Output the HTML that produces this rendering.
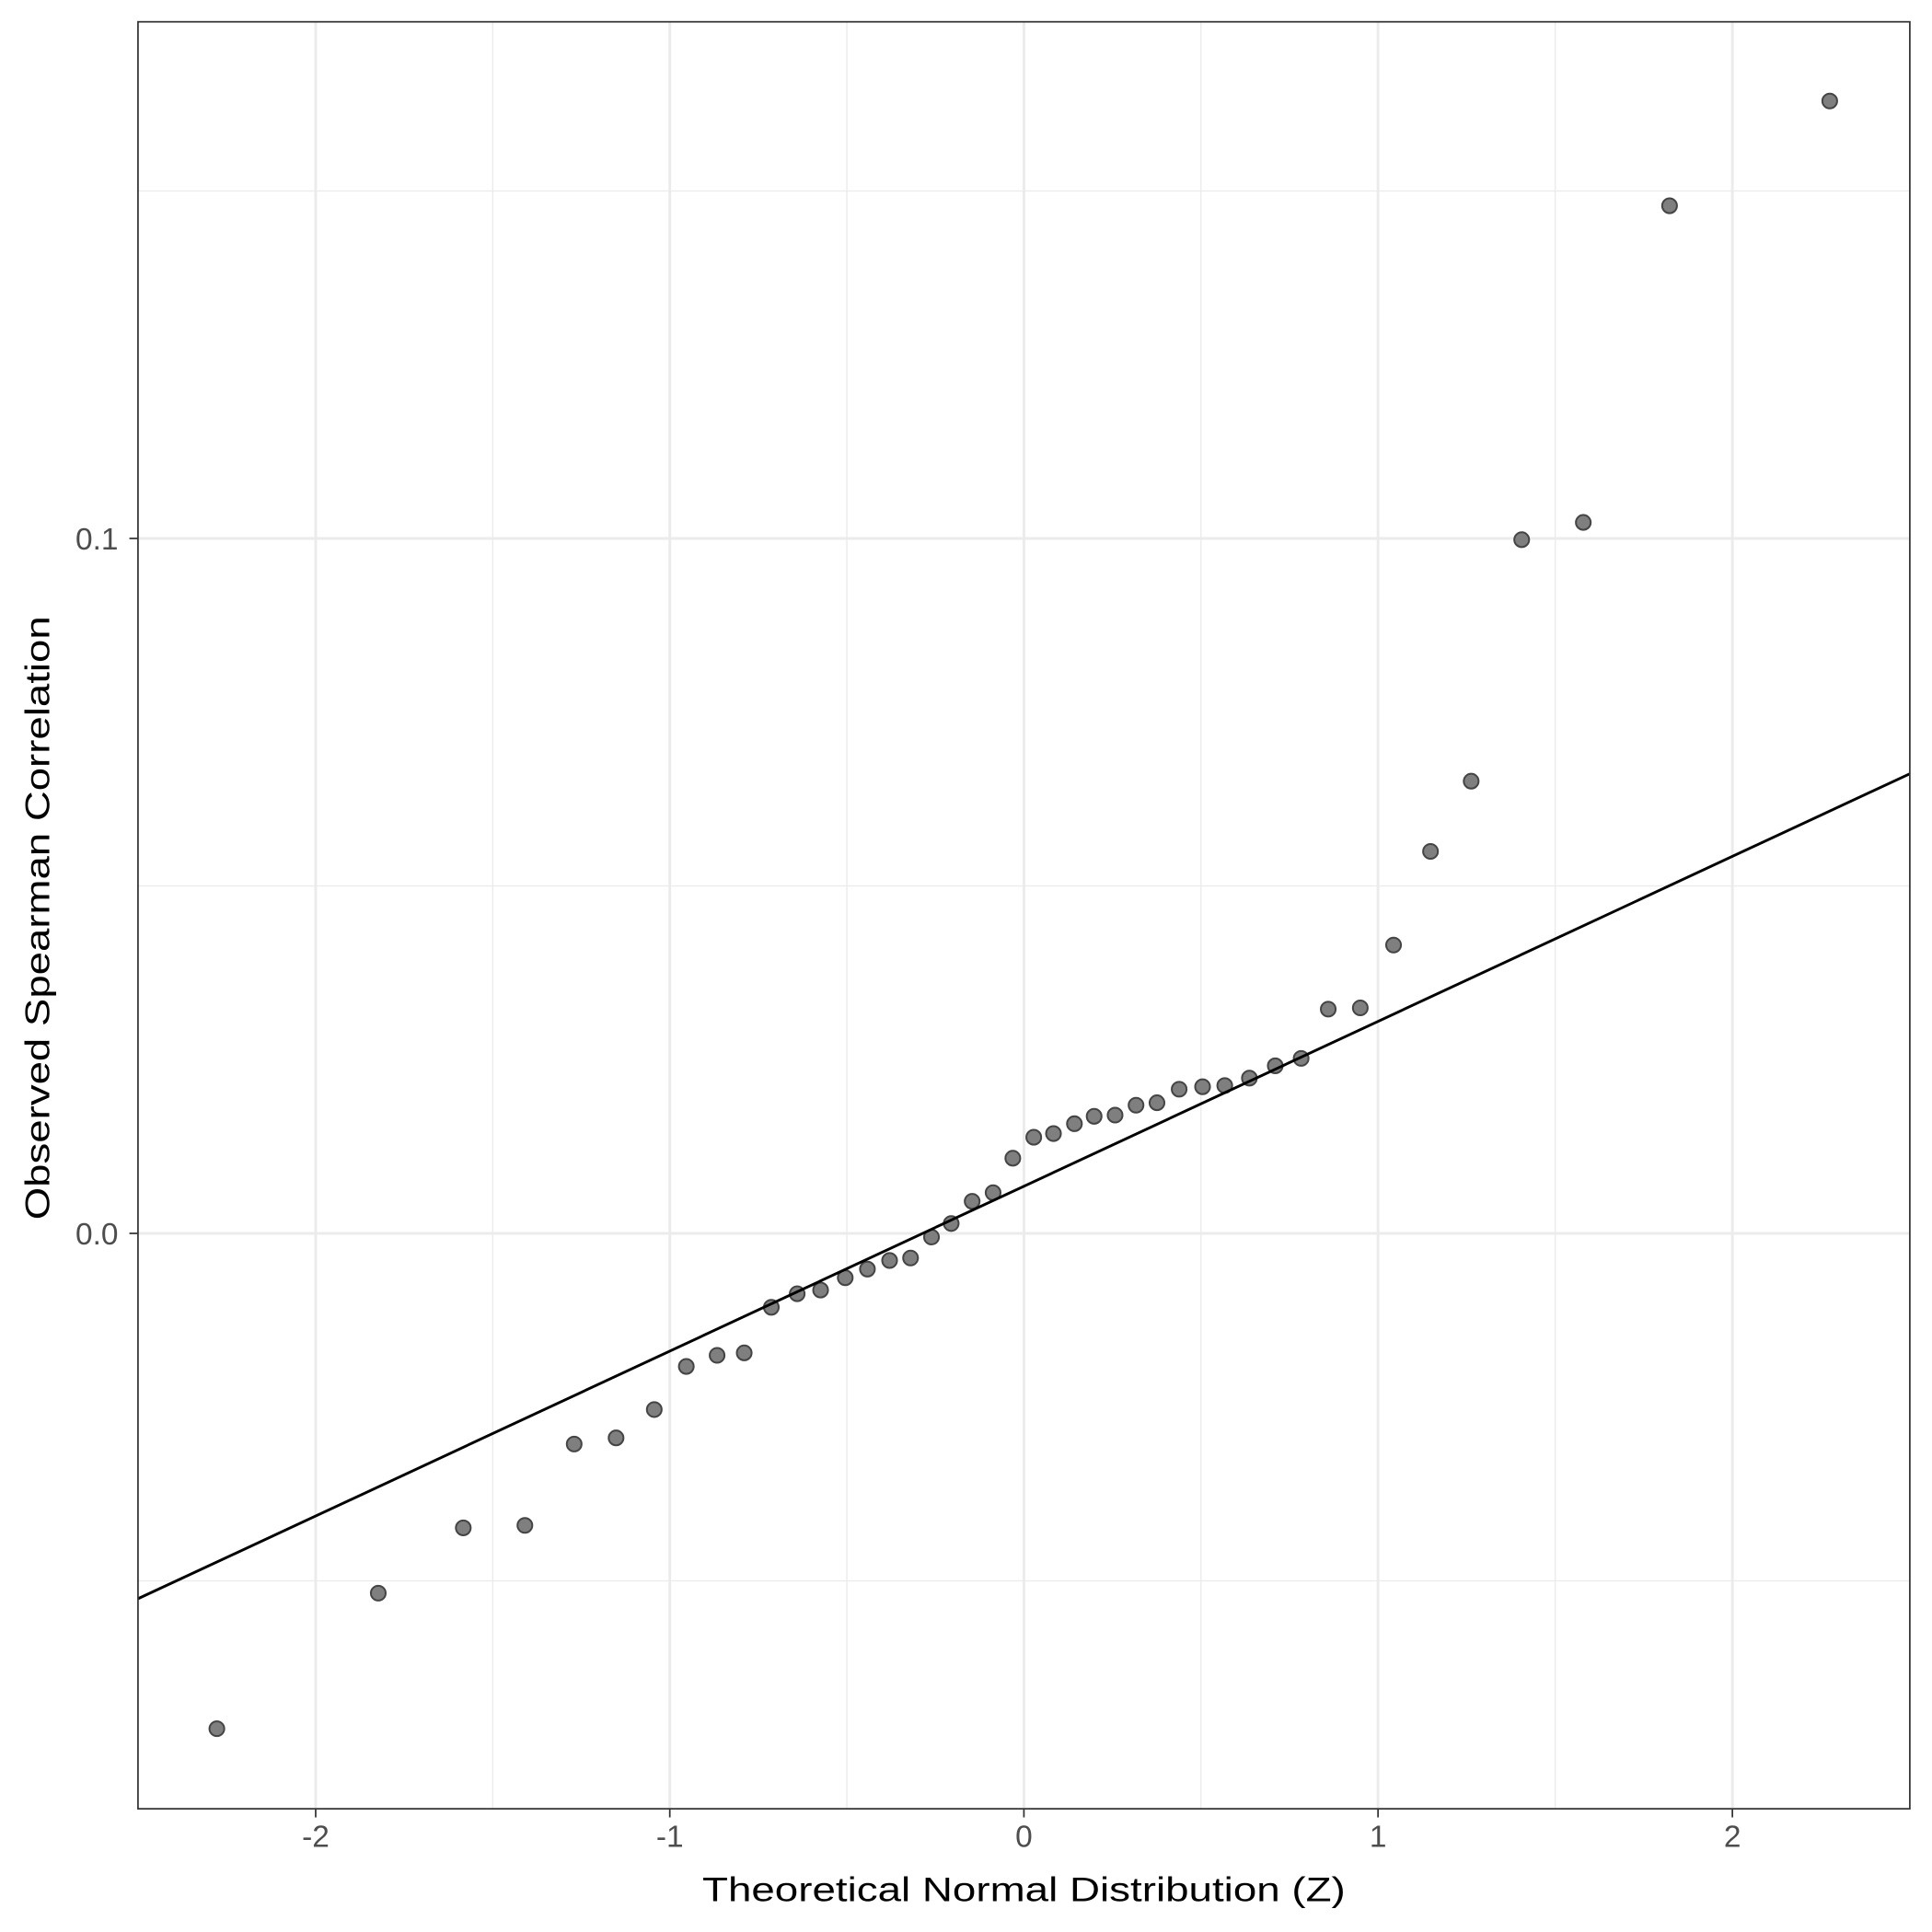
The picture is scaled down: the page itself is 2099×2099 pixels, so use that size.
<!DOCTYPE html>
<html><head><meta charset="utf-8"><style>html,body{margin:0;padding:0;background:#fff}svg{display:block}</style></head>
<body>
<svg width="2099" height="2099" viewBox="0 0 1568 1568" xmlns="http://www.w3.org/2000/svg" font-family="Liberation Sans, sans-serif">
<rect width="1568" height="1568" fill="#fff"/>
<g stroke="#ebebeb" stroke-width="1">
<line x1="399.9" y1="17.7" x2="399.9" y2="1468"/><line x1="687.3" y1="17.7" x2="687.3" y2="1468"/><line x1="974.7" y1="17.7" x2="974.7" y2="1468"/><line x1="1262.2" y1="17.7" x2="1262.2" y2="1468"/>
<line x1="112" y1="155" x2="1550" y2="155"/><line x1="112" y1="719" x2="1550" y2="719"/><line x1="112" y1="1283" x2="1550" y2="1283"/>
</g>
<g stroke="#ebebeb" stroke-width="2.2">
<line x1="256.2" y1="17.7" x2="256.2" y2="1468"/><line x1="543.6" y1="17.7" x2="543.6" y2="1468"/><line x1="831" y1="17.7" x2="831" y2="1468"/><line x1="1118.4" y1="17.7" x2="1118.4" y2="1468"/><line x1="1406" y1="17.7" x2="1406" y2="1468"/>
<line x1="112" y1="437" x2="1550" y2="437"/><line x1="112" y1="1001" x2="1550" y2="1001"/>
</g>
<g fill="#7f7f7f" stroke="#444" stroke-width="1.5">
<circle cx="176" cy="1403" r="6"/><circle cx="307" cy="1293" r="6"/><circle cx="376" cy="1240" r="6"/><circle cx="426" cy="1238" r="6"/><circle cx="466" cy="1172" r="6"/><circle cx="500" cy="1167" r="6"/><circle cx="531" cy="1144" r="6"/><circle cx="557" cy="1109" r="6"/><circle cx="582" cy="1100" r="6"/><circle cx="604" cy="1098" r="6"/><circle cx="626" cy="1061" r="6"/><circle cx="647" cy="1050" r="6"/><circle cx="666" cy="1047" r="6"/><circle cx="686" cy="1037" r="6"/><circle cx="704" cy="1030" r="6"/><circle cx="722" cy="1023" r="6"/><circle cx="739" cy="1021" r="6"/><circle cx="756" cy="1004" r="6"/><circle cx="772" cy="993" r="6"/><circle cx="789" cy="975" r="6"/><circle cx="806" cy="968" r="6"/><circle cx="822" cy="940" r="6"/><circle cx="839" cy="923" r="6"/><circle cx="855" cy="920" r="6"/><circle cx="872" cy="912" r="6"/><circle cx="888" cy="906" r="6"/><circle cx="905" cy="905" r="6"/><circle cx="922" cy="897" r="6"/><circle cx="939" cy="895" r="6"/><circle cx="957" cy="884" r="6"/><circle cx="976" cy="882" r="6"/><circle cx="994" cy="881" r="6"/><circle cx="1014" cy="875" r="6"/><circle cx="1035" cy="865" r="6"/><circle cx="1056" cy="859" r="6"/><circle cx="1078" cy="819" r="6"/><circle cx="1104" cy="818" r="6"/><circle cx="1131" cy="767" r="6"/><circle cx="1161" cy="691" r="6"/><circle cx="1194" cy="634" r="6"/><circle cx="1235" cy="438" r="6"/><circle cx="1285" cy="424" r="6"/><circle cx="1355" cy="167" r="6"/><circle cx="1485" cy="82" r="6"/>
</g>
<line x1="112" y1="1297.5" x2="1550" y2="628" stroke="#000" stroke-width="2.2"/>
<rect x="112" y="17.7" width="1438" height="1450.3" fill="none" stroke="#333" stroke-width="1.3"/>
<g stroke="#333" stroke-width="1.3">
<line x1="256.2" y1="1468" x2="256.2" y2="1475"/><line x1="543.6" y1="1468" x2="543.6" y2="1475"/><line x1="831" y1="1468" x2="831" y2="1475"/><line x1="1118.4" y1="1468" x2="1118.4" y2="1475"/><line x1="1406" y1="1468" x2="1406" y2="1475"/>
<line x1="105" y1="437" x2="112" y2="437"/><line x1="105" y1="1001" x2="112" y2="1001"/>
</g>
<g fill="#4d4d4d" font-size="25" text-anchor="middle">
<text x="256.2" y="1499">-2</text><text x="543.6" y="1499">-1</text><text x="831" y="1499">0</text><text x="1118.4" y="1499">1</text><text x="1406" y="1499">2</text>
</g>
<g fill="#4d4d4d" font-size="25" text-anchor="end">
<text x="96" y="446">0.1</text><text x="96" y="1010">0.0</text>
</g>
<text x="831" y="1543" font-size="28" text-anchor="middle" fill="#000" textLength="522" lengthAdjust="spacingAndGlyphs">Theoretical Normal Distribution (Z)</text>
<text transform="translate(40,745) rotate(-90)" font-size="28" text-anchor="middle" fill="#000" textLength="490" lengthAdjust="spacingAndGlyphs">Observed Spearman Correlation</text>
</svg>
</body></html>
